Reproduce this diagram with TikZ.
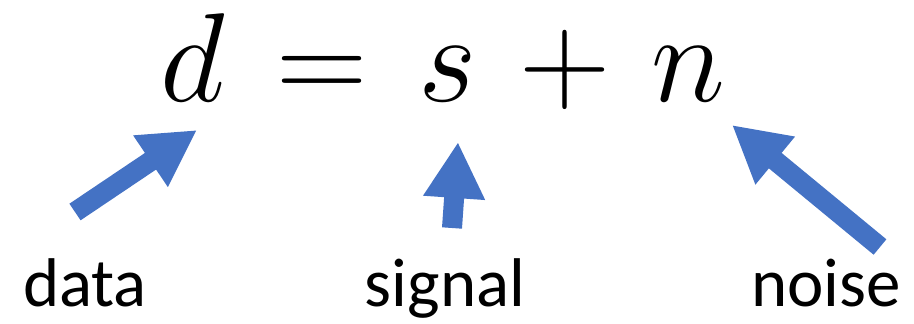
\RequirePackage{fix-cm}
\documentclass[tikz,border=0pt]{standalone}
\usepackage{amsmath}
\usepackage{xcolor}
\usepackage{fontspec}
\setmainfont{Carlito}
\usepackage{tikz}
\usetikzlibrary{arrows.meta, positioning}
\definecolor{arrowblue}{HTML}{4472C4}

\begin{document}
\begin{tikzpicture}[
  x=0.025cm, y=-0.025cm,
  sym/.style={inner sep=0pt, anchor=base, font=\fontsize{90}{90}\selectfont},
  lbl/.style={inner sep=0pt, anchor=base, font=\fontsize{49}{49}\selectfont},
  bigarr/.style={-{Triangle[length=1.4cm, width=1.45cm]}, line width=0.5cm, draw=arrowblue, color=arrowblue}
]
\useasboundingbox (0,0) rectangle (914,323);

\node[sym] (d) at (193,101) {$d$};
\node[sym] (eq) at (322,101) {$=$};
\node[sym] (s) at (448,101) {$s$};
\node[sym] (plus) at (565,101) {$+$};
\node[sym] (n) at (688,101) {$n$};

\node[lbl] (data) at (85,306) {data};
\node[lbl] (signal) at (445,306) {signal};
\node[lbl] (noise) at (826,306) {noise};

\coordinate (datatail) at (75,212);
\coordinate (datatip) at (197,130);
\coordinate (signaltail) at (452,228);
\coordinate (signaltip) at (458,142);
\coordinate (noisetail) at (880,247);
\coordinate (noisetip) at (732,125);

\draw[bigarr] (datatail) -- (datatip);
\draw[bigarr] (signaltail) -- (signaltip);
\draw[bigarr] (noisetail) -- (noisetip);
\end{tikzpicture}
\end{document}
